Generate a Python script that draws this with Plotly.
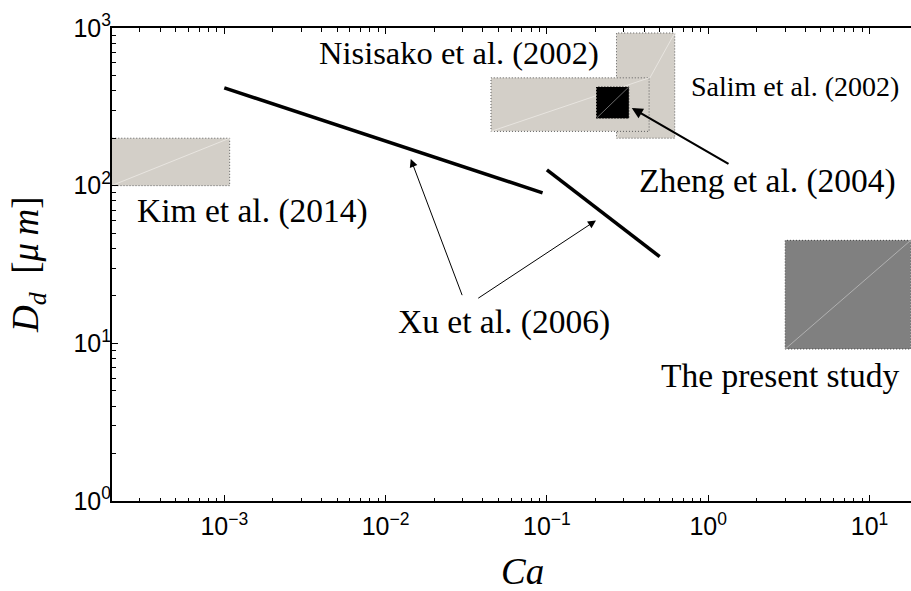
import numpy as np
import plotly.graph_objects as go

# ---------------- data ----------------
# rectangular regions: capillary number range and droplet diameter range [um]
rect_names = ["Kim et al. (2014)", "Salim et al. (2002)", "Nisisako et al. (2002)",
              "Zheng et al. (2004)", "The present study"]
rect_ca_min = [2.0e-4, 0.27, 0.045, 0.203, 3.0]
rect_ca_max = [1.08e-3, 0.62, 0.43, 0.322, 18.0]
rect_d_min = [100.0, 200.0, 221.0, 268.0, 9.2]
rect_d_max = [200.0, 930.0, 483.0, 423.0, 45.0]

# Xu et al. (2006) correlation segments
xu_ca = [[1.0e-3, 0.094], [0.10, 0.50]]
xu_d = [[417.0, 90.0], [126.0, 35.5]]

# axis ticks
x_exponents = [-3, -2, -1, 0, 1]
y_exponents = [0, 1, 2, 3]

# ---------------- styles ----------------
SERIF = "Liberation Serif"
SANS = "Liberation Sans"
rect_style = {
    "Kim et al. (2014)": dict(fill="#d3cfc8", border="#5a5a5a", diag="#e8e5e0"),
    "Salim et al. (2002)": dict(fill="#d3cfc8", border="#5a5a5a", diag="#e8e5e0"),
    "Nisisako et al. (2002)": dict(fill="#d3cfc8", border="#5a5a5a", diag="#e8e5e0"),
    "Zheng et al. (2004)": dict(fill="#000000", border="#000000", diag="#6a6a6a"),
    "The present study": dict(fill="#808080", border="#3c3c3c", diag="#b0b0b0"),
}

fig = go.Figure()

for name, x0, x1, y0, y1 in zip(rect_names, rect_ca_min, rect_ca_max, rect_d_min, rect_d_max):
    st = rect_style[name]
    fig.add_trace(go.Scatter(
        x=[x0, x1, x1, x0, x0], y=[y0, y0, y1, y1, y0],
        mode="lines", fill="toself", fillcolor=st["fill"],
        line=dict(color=st["border"], width=1, dash="1px,2px"),
        hoverinfo="skip", showlegend=False))
    fig.add_trace(go.Scatter(
        x=[x0, x1], y=[y0, y1], mode="lines",
        line=dict(color=st["diag"], width=1),
        hoverinfo="skip", showlegend=False))

for cx, dy in zip(xu_ca, xu_d):
    fig.add_trace(go.Scatter(x=cx, y=dy, mode="lines",
                             line=dict(color="black", width=3.6),
                             hoverinfo="skip", showlegend=False))

# ---------------- labels ----------------
labels = [
    ("Nisisako et al. (2002)", -1.544, 2.842, 32.5),
    ("Salim et al. (2002)", 0.535, 2.626, 28),
    ("Zheng et al. (2004)", 0.365, 2.027, 33.5),
    ("Kim et al. (2014)", -2.822, 1.842, 33.5),
    ("Xu et al. (2006)", -1.266, 1.137, 33.5),
    ("The present study", 0.442, 0.799, 33.5),
]
for txt, lx, ly, fs in labels:
    fig.add_annotation(x=lx, y=ly, xref="x", yref="y", text=txt, showarrow=False,
                       font=dict(family=SERIF, size=fs, color="black"),
                       xanchor="center", yanchor="middle")

# arrows (head, tail) in log10 coordinates
arrows = [
    ((-1.844, 2.169), (-1.522, 1.296), 1.0, 1.6),
    ((-0.696, 1.779), (-1.435, 1.280), 1.0, 1.6),
    ((-0.474, 2.493), (0.135, 2.133), 2.2, 1.0),
]
for (hx, hy), (tx, ty), w, s in arrows:
    fig.add_annotation(x=hx, y=hy, ax=tx, ay=ty, xref="x", yref="y",
                       axref="x", ayref="y", text="", showarrow=True,
                       arrowhead=2, arrowwidth=w, arrowsize=s, arrowcolor="black")

# axis titles (paper coordinates relative to the plot area)
fig.add_annotation(x=(522 - 112) / 799, y=(501 - 571) / 473, xref="paper", yref="paper",
                   text="<i>Ca</i>", showarrow=False,
                   font=dict(family=SERIF, size=37, color="black"),
                   xanchor="center", yanchor="middle")
fig.add_annotation(x=(28 - 112) / 799, y=(501 - 265) / 473, xref="paper", yref="paper",
                   text="<i>D</i><sub><i>d</i></sub>\u2002[<i>\u03bc\u2009m</i>]", showarrow=False,
                   textangle=-90,
                   font=dict(family=SERIF, size=37, color="black"),
                   xanchor="center", yanchor="middle")


def pow_label(e):
    return "10<sup>" + ("\u2212" if e < 0 else "") + str(abs(e)) + "</sup>"


def minor_vals(e0, e1):
    return [m * 10.0 ** e for e in range(e0, e1) for m in range(2, 10)]


axis_common = dict(
    type="log", showline=True, linewidth=2, linecolor="black",
    ticks="inside", ticklen=6, tickwidth=1, tickcolor="black",
    showgrid=False, zeroline=False,
    tickfont=dict(family=SANS, size=25, color="black"),
)
fig.update_xaxes(range=[-3.696, 1.257], tickmode="array",
                 tickvals=[10.0 ** e for e in x_exponents],
                 ticktext=[pow_label(e) for e in x_exponents],
                 mirror="allticks", ticklabelstandoff=2,
                 minor=dict(ticks="inside", ticklen=3.5, tickwidth=1, tickcolor="black",
                            tickmode="array", tickvals=minor_vals(-4, 2), showgrid=False),
                 **axis_common)
fig.update_yaxes(range=[0, 3], tickmode="array",
                 tickvals=[10.0 ** e for e in y_exponents],
                 ticktext=[pow_label(e) for e in y_exponents],
                 mirror=False, ticklabelstandoff=-6,
                 minor=dict(ticks="inside", ticklen=3.5, tickwidth=1, tickcolor="black",
                            tickmode="array", tickvals=minor_vals(0, 3), showgrid=False),
                 **axis_common)

fig.update_layout(
    width=911, height=591,
    margin=dict(l=112, r=0, t=28, b=90),
    paper_bgcolor="white", plot_bgcolor="white",
    showlegend=False,
)

# remove the default 8px page margin so the figure sits at the window's corner
fig.write_html("out.html", config={"displayModeBar": False},
               post_script="document.body.style.margin='0';")
